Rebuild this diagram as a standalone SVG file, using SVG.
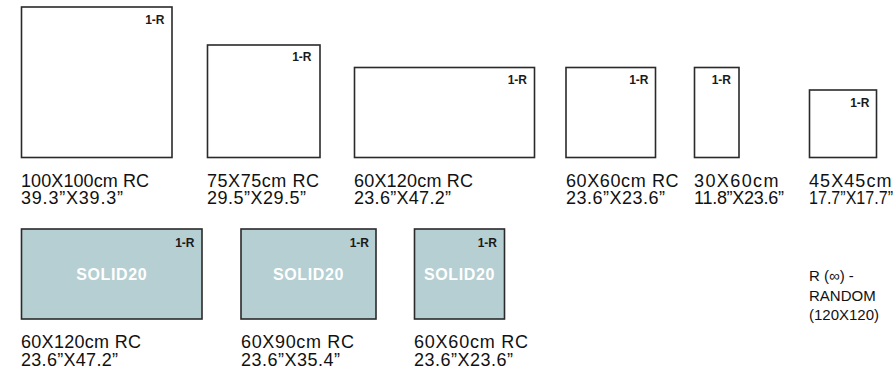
<svg xmlns="http://www.w3.org/2000/svg" width="896" height="377" viewBox="0 0 896 377">
<style>
.tile{fill:#ffffff;stroke:#2a2a2a;stroke-width:1.6}
.solid{fill:#b5cfd3;stroke:#2a2a2a;stroke-width:1.6}
.tag{font-family:"Liberation Sans",Arial,sans-serif;font-size:12px;font-weight:bold;fill:#1a1a1a;text-anchor:end}
.lbl{font-family:"Liberation Sans",Arial,sans-serif;font-size:18px;fill:#111111}
.brand{font-family:"Liberation Sans",Arial,sans-serif;font-size:16px;font-weight:bold;fill:#ffffff;text-anchor:middle;letter-spacing:0.6px}
.note{font-family:"Liberation Sans",Arial,sans-serif;font-size:15px;fill:#111111}
</style>
<rect width="896" height="377" fill="#ffffff"/>

<g id="tile-100x100">
<rect class="tile" x="21.5" y="7" width="150.5" height="150.5"/>
<text class="tag" x="164.5" y="23.5">1-R</text>
<text class="lbl" x="21" y="186.5" textLength="128" lengthAdjust="spacing">100X100cm RC</text>
<text class="lbl" x="21" y="204" textLength="102" lengthAdjust="spacing">39.3”X39.3”</text>
</g>

<g id="tile-75x75">
<rect class="tile" x="207.5" y="45" width="112.5" height="112.5"/>
<text class="tag" x="311.5" y="61">1-R</text>
<text class="lbl" x="207" y="186.5" textLength="112" lengthAdjust="spacing">75X75cm RC</text>
<text class="lbl" x="207" y="204" textLength="99" lengthAdjust="spacing">29.5”X29.5”</text>
</g>

<g id="tile-60x120">
<rect class="tile" x="354.5" y="67.5" width="180" height="90"/>
<text class="tag" x="527" y="84">1-R</text>
<text class="lbl" x="354" y="186.5" textLength="119" lengthAdjust="spacing">60X120cm RC</text>
<text class="lbl" x="354" y="204" textLength="97" lengthAdjust="spacing">23.6”X47.2”</text>
</g>

<g id="tile-60x60">
<rect class="tile" x="566" y="67.5" width="89.5" height="90"/>
<text class="tag" x="648.5" y="84">1-R</text>
<text class="lbl" x="566" y="186.5" textLength="112.5" lengthAdjust="spacing">60X60cm RC</text>
<text class="lbl" x="566" y="204" textLength="99" lengthAdjust="spacing">23.6”X23.6”</text>
</g>

<g id="tile-30x60">
<rect class="tile" x="694.5" y="67.5" width="44.5" height="90"/>
<text class="tag" x="731" y="84">1-R</text>
<text class="lbl" x="694" y="186.5" textLength="84.5" lengthAdjust="spacing">30X60cm</text>
<text class="lbl" x="694" y="204" textLength="90" lengthAdjust="spacing">11.8”X23.6”</text>
</g>

<g id="tile-45x45">
<rect class="tile" x="809.5" y="90" width="67" height="67.5"/>
<text class="tag" x="869.5" y="106.5">1-R</text>
<text class="lbl" x="809" y="186.5" textLength="82.5" lengthAdjust="spacing">45X45cm</text>
<text class="lbl" x="809" y="204" textLength="84" lengthAdjust="spacingAndGlyphs">17.7”X17.7”</text>
</g>

<g id="solid-60x120">
<rect class="solid" x="21.5" y="229" width="180.5" height="90"/>
<text class="tag" x="194.5" y="246.5">1-R</text>
<text class="brand" x="111.7" y="280">SOLID20</text>
<text class="lbl" x="21" y="348" textLength="120" lengthAdjust="spacing">60X120cm RC</text>
<text class="lbl" x="21" y="366" textLength="97" lengthAdjust="spacing">23.6”X47.2”</text>
</g>

<g id="solid-60x90">
<rect class="solid" x="241" y="229" width="135" height="90"/>
<text class="tag" x="369" y="246.5">1-R</text>
<text class="brand" x="308.5" y="280">SOLID20</text>
<text class="lbl" x="241" y="348" textLength="113" lengthAdjust="spacing">60X90cm RC</text>
<text class="lbl" x="241" y="366" textLength="99" lengthAdjust="spacing">23.6”X35.4”</text>
</g>

<g id="solid-60x60">
<rect class="solid" x="414.5" y="229" width="90" height="90"/>
<text class="tag" x="497" y="246.5">1-R</text>
<text class="brand" x="459.5" y="280">SOLID20</text>
<text class="lbl" x="414" y="348" textLength="114" lengthAdjust="spacing">60X60cm RC</text>
<text class="lbl" x="414" y="366" textLength="99" lengthAdjust="spacing">23.6”X23.6”</text>
</g>

<g id="random-note">
<text class="note" x="809" y="281">R (∞) -</text>
<text class="note" x="809" y="300.5">RANDOM</text>
<text class="note" x="809" y="320">(120X120)</text>
</g>

<g id="connectors"></g>
</svg>
